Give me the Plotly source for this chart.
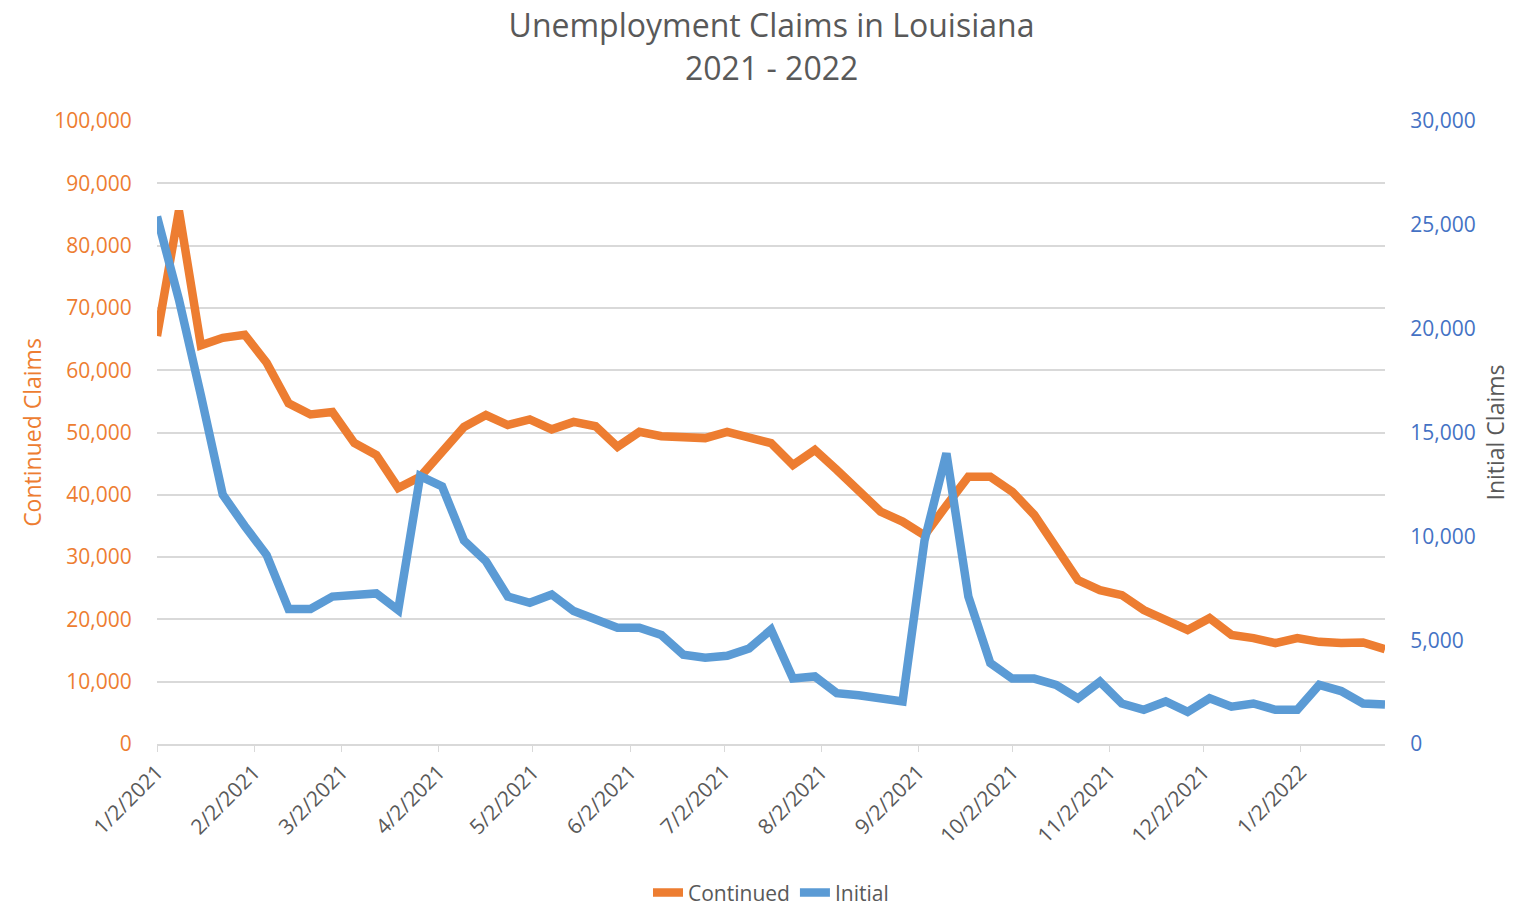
"""
Unemployment claims in Louisiana, 2021 - 2022 (weekly, two axes).
"""

import plotly.graph_objects as go


# ── Данные ───────────────────────────────────────────────────
weeks = [
    "2021-01-02", "2021-01-09", "2021-01-16", "2021-01-23", "2021-01-30",
    "2021-02-06", "2021-02-13", "2021-02-20", "2021-02-27",
    "2021-03-06", "2021-03-13", "2021-03-20", "2021-03-27",
    "2021-04-03", "2021-04-10", "2021-04-17", "2021-04-24",
    "2021-05-01", "2021-05-08", "2021-05-15", "2021-05-22", "2021-05-29",
    "2021-06-05", "2021-06-12", "2021-06-19", "2021-06-26",
    "2021-07-03", "2021-07-10", "2021-07-17", "2021-07-24", "2021-07-31",
    "2021-08-07", "2021-08-14", "2021-08-21", "2021-08-28",
    "2021-09-04", "2021-09-11", "2021-09-18", "2021-09-25",
    "2021-10-02", "2021-10-09", "2021-10-16", "2021-10-23", "2021-10-30",
    "2021-11-06", "2021-11-13", "2021-11-20", "2021-11-27",
    "2021-12-04", "2021-12-11", "2021-12-18", "2021-12-25",
    "2022-01-01", "2022-01-08", "2022-01-15", "2022-01-22", "2022-01-29",
]

continued = [
    65500, 85600, 64000, 65200, 65700, 61200, 54700, 52900, 53300, 48300,
    46400, 41100, 42900, 46900, 50900, 52800, 51200, 52100, 50500, 51700,
    51000, 47700, 50100, 49400, 49400, 49100, 50100, 49300, 48300, 44800,
    47200, 44000, 40800, 37300, 35700, 33500, 38300, 42900, 42900, 40500,
    36800, 31700, 26300, 24700, 23900, 21500, 19900, 18300, 20200, 17500,
    17000, 16200, 17000, 16400, 16200, 16300, 15200,
]

initial = [
    25400, 21400, 16800, 12000, 10500, 9100, 6500, 6500, 7100, 7200,
    7250, 6450, 12900, 12400, 9800, 8800, 7100, 6800, 7200, 6400,
    6000, 5600, 5600, 5250, 4300, 4150, 4250, 4600, 5500, 3150,
    3250, 2450, 2350, 2250, 2050, 9800, 14000, 7100, 3900, 3150,
    3150, 2850, 2200, 3000, 1950, 1650, 2050, 1550, 2200, 1800,
    1950, 1650, 1650, 2850, 2550, 1950, 1900,
]

tick_dates = [
    "2021-01-02", "2021-02-02", "2021-03-02", "2021-04-02", "2021-05-02",
    "2021-06-02", "2021-07-02", "2021-08-02", "2021-09-02", "2021-10-02",
    "2021-11-02", "2021-12-02", "2022-01-02",
]
tick_labels = [
    "1/2/2021", "2/2/2021", "3/2/2021", "4/2/2021", "5/2/2021",
    "6/2/2021", "7/2/2021", "8/2/2021", "9/2/2021", "10/2/2021",
    "11/2/2021", "12/2/2021", "1/2/2022",
]

title_main = "Unemployment Claims in Louisiana"
title_sub = "2021 - 2022"

ORANGE = "#ED7D31"
BLUE = "#5B9BD5"
BLUE_TEXT = "#4472C4"
GREY = "#595959"
GRID = "#D9D9D9"
FONT = "Open Sans"

# ── График ───────────────────────────────────────────────────
fig = go.Figure()

fig.add_trace(go.Scatter(
    x=weeks, y=continued, name="Continued", mode="lines",
    line=dict(color=ORANGE, width=8.5),
))
fig.add_trace(go.Scatter(
    x=weeks, y=initial, name="Initial", mode="lines", yaxis="y2",
    line=dict(color=BLUE, width=8.5),
))

# вторая строка заголовка отдельной подписью
fig.add_annotation(
    text=title_sub, xref="paper", yref="paper", x=0.5, y=1.086,
    xanchor="center", yanchor="middle", showarrow=False,
    font=dict(family=FONT, size=32, color=GREY),
)

fig.update_layout(
    width=1527, height=925,
    margin=dict(l=149, r=150, t=113, b=189),
    paper_bgcolor="white", plot_bgcolor="white",
    font=dict(family=FONT, color=GREY, size=21),
    title=dict(
        text=title_main, x=0.5, xanchor="center",
        y=0.981, yanchor="middle",
        font=dict(size=32, color=GREY),
    ),
    xaxis=dict(
        type="date",
        range=[weeks[0], weeks[-1]],
        tickvals=tick_dates, ticktext=tick_labels,
        tickangle=-45,
        showgrid=False,
        showline=True, linecolor=GRID, linewidth=1.5,
        ticks="outside", tickcolor=GRID, ticklen=6,
        tickfont=dict(size=21, color=GREY),
    ),
    yaxis=dict(
        range=[0, 100000], dtick=10000,
        tickformat=",d",
        showgrid=True, gridcolor=GRID, gridwidth=1.5,
        zeroline=False,
        tickfont=dict(size=21, color=ORANGE),
        ticks="outside", ticklen=20, tickcolor="rgba(0,0,0,0)",
        title=dict(text="Continued Claims", font=dict(size=23, color=ORANGE),
                   standoff=6),
    ),
    yaxis2=dict(
        range=[0, 30000], dtick=5000,
        tickformat=",d",
        overlaying="y", side="right",
        showgrid=False, zeroline=False,
        tickfont=dict(size=21, color=BLUE_TEXT),
        ticks="outside", ticklen=20, tickcolor="rgba(0,0,0,0)",
        title=dict(text="Initial Claims", font=dict(size=23, color=GREY),
                   standoff=13),
    ),
    legend=dict(
        orientation="h", x=0.5, xanchor="center", y=-0.239, yanchor="middle",
        font=dict(size=21, color=GREY),
    ),
)

fig.write_html("out.html")
